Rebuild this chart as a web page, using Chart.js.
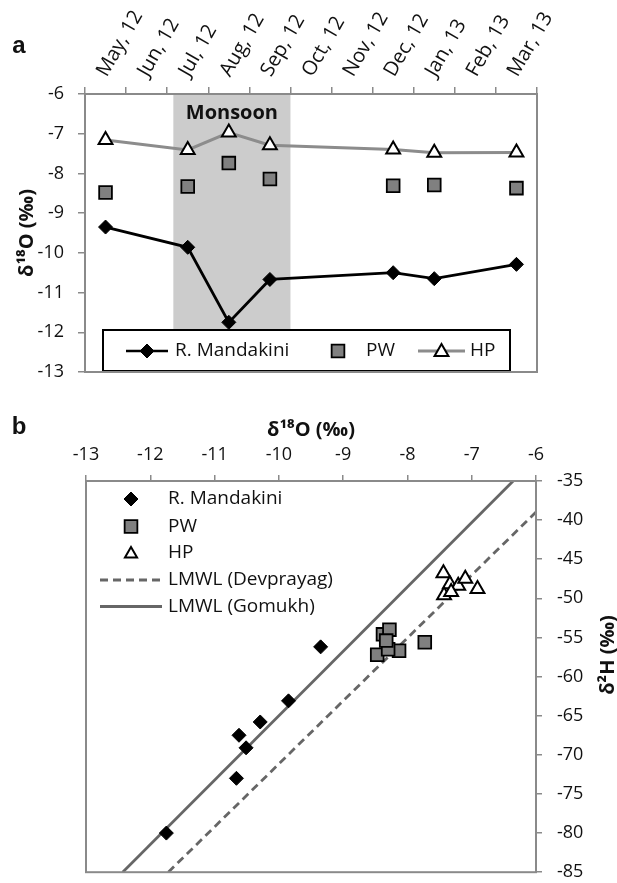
<!DOCTYPE html>
<html><head><meta charset="utf-8">
<script src="https://cdn.jsdelivr.net/npm/chart.js@4/dist/chart.umd.min.js"></script>
<style>
html,body{margin:0;padding:0;background:#fff;}
#wrap{position:relative;width:617px;height:883px;overflow:hidden;}
#ca{position:absolute;left:0;top:0;}
#cb{position:absolute;left:0;top:400px;}
</style></head><body>
<div id="wrap">
<canvas id="ca" width="617" height="400"></canvas>
<canvas id="cb" width="617" height="483"></canvas>
</div>
<script>
// ---------- Panel a data ----------
const months = ['May, 12','Jun, 12','Jul, 12','Aug, 12','Sep, 12','Oct, 12','Nov, 12','Dec, 12','Jan, 13','Feb, 13','Mar, 13'];
const mandakiniA = [-9.35, null, -9.86, -11.75, -10.67, null, null, -10.50, -10.65, null, -10.29];
const pwA        = [-8.48, null, -8.33, -7.74, -8.14, null, null, -8.31, -8.29, null, -8.37];
const hpA        = [-7.16, null, -7.41, -6.97, -7.29, null, null, -7.40, -7.48, null, -7.47];
const monsoonSpan = [1.65, 4.5];   // category-index range of the shaded band
const yRangeA = [-13, -6];

// ---------- Panel b data ----------
const mandakiniO = [-11.75, -10.66, -10.62, -10.51, -10.29, -9.85, -9.35];
const mandakiniH = [-80.0, -73.0, -67.5, -69.1, -65.8, -63.1, -56.2];
const pwO = [-8.47, -7.73, -8.13, -8.30, -8.38, -8.28, -8.33];
const pwH = [-57.2, -55.6, -56.7, -56.5, -54.6, -54.0, -55.4];
const hpO = [-7.44, -7.34, -7.43, -7.21, -7.10, -6.91, -7.32];
const hpH = [-46.8, -48.2, -49.6, -48.4, -47.5, -48.8, -49.2];
const lmwlDevO = [-11.72, -6];
const lmwlDevH = [-85, -38.97];
const lmwlGomO = [-12.43, -6.355];
const lmwlGomH = [-85, -35];
const xRangeB = [-13, -6];
const yRangeB = [-85, -35];

const FONT = "'Open Sans','Noto Sans',sans-serif";
Chart.defaults.font.family = FONT;
Chart.defaults.font.size = 18;
Chart.defaults.color = '#111';
Chart.defaults.animation = false;
const AX = '#8a8a8a';
const pts = (xs, ys) => xs.map((x, i) => ({x, y: ys[i]}));

function marker(ctx, style, r, x, y, fill, stroke, bw) {
  ctx.save();
  ctx.fillStyle = fill; ctx.strokeStyle = stroke; ctx.lineWidth = bw;
  Chart.helpers.drawPoint(ctx, {pointStyle: style, radius: r, rotation: 0, borderWidth: bw}, x, y);
  ctx.restore();
}
function seg(ctx, x0, x1, y, color, w, dash) {
  ctx.save(); ctx.strokeStyle = color; ctx.lineWidth = w; ctx.setLineDash(dash || []);
  ctx.beginPath(); ctx.moveTo(x0, y); ctx.lineTo(x1, y); ctx.stroke(); ctx.restore();
}
function txt(ctx, s, x, y, font, align) {
  ctx.save(); ctx.font = font; ctx.fillStyle = '#111'; ctx.textAlign = align || 'left'; ctx.textBaseline = 'middle';
  ctx.fillText(s, x, y); ctx.restore();
}

// ---------- Chart a ----------
const pluginA = {
  id: 'panelA',
  beforeDatasetsDraw(chart) {
    const {ctx, chartArea: ca, scales: {x}} = chart;
    const x0 = x.getPixelForValue(monsoonSpan[0]), x1 = x.getPixelForValue(monsoonSpan[1]);
    ctx.save();
    ctx.fillStyle = '#cccccc';
    ctx.fillRect(x0, ca.top, x1 - x0, ca.bottom - ca.top);
    ctx.restore();
    txt(ctx, 'Monsoon', (x0 + x1) / 2, ca.top + 19, 'bold 20px ' + FONT, 'center');
  },
  afterDatasetsDraw(chart) {
    const ctx = chart.ctx;
    const ds = chart.data.datasets;
    ctx.save();
    ctx.fillStyle = '#fff'; ctx.strokeStyle = '#000'; ctx.lineWidth = 2;
    ctx.fillRect(103, 330, 407, 41); ctx.strokeRect(103, 330, 407, 41);
    ctx.restore();
    const y = 351, f = '19px ' + FONT;
    seg(ctx, 126, 168, y, '#000', 2.5);
    marker(ctx, 'rectRot', 7, 147, y, '#000', '#000', 1);
    txt(ctx, ds[0].label, 175, y, f);
    marker(ctx, 'rect', 9, 338, y, '#808080', '#000', 1.8);
    txt(ctx, ds[1].label, 366, y, f);
    seg(ctx, 418, 465, y, '#8c8c8c', 3);
    marker(ctx, 'triangle', 8, 441.5, y + 1, '#fff', '#000', 2);
    txt(ctx, ds[2].label, 470, y, f);
  },
  afterDraw(chart) {
    const {ctx, chartArea: ca} = chart;
    ctx.save(); ctx.strokeStyle = AX; ctx.lineWidth = 2;
    ctx.strokeRect(ca.left, ca.top, ca.right - ca.left, ca.bottom - ca.top);
    ctx.restore();
    txt(ctx, 'a', 19, 46, 'bold 24px "Liberation Sans", Arial, sans-serif', 'center');
  }
};

new Chart(document.getElementById('ca'), {
  type: 'line',
  data: {
    labels: months,
    datasets: [
      {label: 'R. Mandakini', data: mandakiniA, spanGaps: true, borderColor: '#000', borderWidth: 2.8,
       pointStyle: 'rectRot', pointRadius: 7, pointBackgroundColor: '#000', pointBorderColor: '#000', pointBorderWidth: 1, tension: 0},
      {label: 'PW', data: pwA, showLine: false, pointStyle: 'rect', pointRadius: 9,
       pointBackgroundColor: '#808080', pointBorderColor: '#000', pointBorderWidth: 1.8},
      {label: 'HP', data: hpA, spanGaps: true, borderColor: '#8c8c8c', borderWidth: 3,
       pointStyle: 'triangle', pointRadius: 8, pointBackgroundColor: '#fff', pointBorderColor: '#000', pointBorderWidth: 2, tension: 0}
    ]
  },
  options: {
    responsive: false, maintainAspectRatio: false,
    layout: {padding: {left: 0, top: 0, right: 80, bottom: 28}},
    plugins: {legend: {display: false}, tooltip: {enabled: false}},
    scales: {
      x: {
        type: 'category', position: 'top', offset: true,
        grid: {offset: true, drawOnChartArea: false, drawTicks: true, tickLength: 7, color: AX, lineWidth: 1.5},
        border: {display: false},
        ticks: {minRotation: 60, maxRotation: 60, autoSkip: false, padding: 6, labelOffset: 17, font: {size: 20}},
        afterFit(s) { s.height = 94; s.paddingLeft = 0; s.paddingRight = 0; }
      },
      y: {
        min: yRangeA[0], max: yRangeA[1],
        grid: {drawOnChartArea: false, drawTicks: true, tickLength: 7, color: AX, lineWidth: 1.5},
        border: {display: false},
        ticks: {stepSize: 1, padding: 14, font: {size: 18}},
        title: {display: true, text: 'δ¹⁸O (‰)', font: {weight: 'bold', size: 20}, padding: {top: 15, bottom: 0}},
        afterFit(s) { s.width = 85; s.paddingTop = 0; s.paddingBottom = 0; }
      }
    }
  },
  plugins: [pluginA]
});

// ---------- Chart b ----------
const pluginB = {
  id: 'panelB',
  afterDraw(chart) {
    const {ctx, chartArea: ca} = chart;
    const ds = chart.data.datasets;
    ctx.save(); ctx.strokeStyle = AX; ctx.lineWidth = 2;
    ctx.strokeRect(ca.left, ca.top, ca.right - ca.left, ca.bottom - ca.top);
    ctx.restore();
    const f = '19px ' + FONT, tx = 168;
    marker(ctx, 'rectRot', 7, 131, 99, '#000', '#000', 1);
    txt(ctx, ds[0].label, tx, 99, f);
    marker(ctx, 'rect', 9, 131, 126.5, '#808080', '#000', 1.8);
    txt(ctx, ds[1].label, tx, 126.5, f);
    marker(ctx, 'triangle', 7, 131, 154, '#fff', '#000', 2);
    txt(ctx, ds[2].label, tx, 153, f);
    seg(ctx, 100, 162, 180, '#666', 2.8, [8, 5]);
    txt(ctx, ds[3].label, tx, 180, f);
    seg(ctx, 100, 162, 206.5, '#666', 2.8);
    txt(ctx, ds[4].label, tx, 206.5, f);
    txt(ctx, 'b', 19, 27, 'bold 24px "Liberation Sans", Arial, sans-serif', 'center');
    ctx.save();
    ctx.translate(608, 255); ctx.rotate(-Math.PI / 2);
    txt(ctx, 'δ²H (‰)', 0, 0, 'bold 20px ' + FONT, 'center');
    ctx.restore();
  }
};

new Chart(document.getElementById('cb'), {
  type: 'scatter',
  data: {
    datasets: [
      {label: 'R. Mandakini', data: pts(mandakiniO, mandakiniH), pointStyle: 'rectRot', pointRadius: 7,
       pointBackgroundColor: '#000', pointBorderColor: '#000', pointBorderWidth: 1},
      {label: 'PW', data: pts(pwO, pwH), pointStyle: 'rect', pointRadius: 9,
       pointBackgroundColor: '#808080', pointBorderColor: '#000', pointBorderWidth: 1.8},
      {label: 'HP', data: pts(hpO, hpH), pointStyle: 'triangle', pointRadius: 8,
       pointBackgroundColor: '#fff', pointBorderColor: '#000', pointBorderWidth: 2},
      {label: 'LMWL (Devprayag)', data: pts(lmwlDevO, lmwlDevH), showLine: true, pointRadius: 0,
       borderColor: '#666', borderWidth: 2.8, borderDash: [8, 5]},
      {label: 'LMWL (Gomukh)', data: pts(lmwlGomO, lmwlGomH), showLine: true, pointRadius: 0,
       borderColor: '#666', borderWidth: 2.8}
    ]
  },
  options: {
    responsive: false, maintainAspectRatio: false,
    layout: {padding: {left: 86, top: 0, right: 0, bottom: 9}},
    plugins: {legend: {display: false}, tooltip: {enabled: false}},
    scales: {
      x: {
        type: 'linear', position: 'top', min: xRangeB[0], max: xRangeB[1],
        grid: {drawOnChartArea: false, drawTicks: true, tickLength: 6, color: AX, lineWidth: 1.5},
        border: {display: false},
        ticks: {stepSize: 1, padding: 9, font: {size: 18}},
        title: {display: true, text: 'δ¹⁸O (‰)', font: {weight: 'bold', size: 20}, padding: {top: 18, bottom: 0}},
        afterFit(s) { s.height = 81; s.paddingLeft = 0; s.paddingRight = 0; }
      },
      y: {
        type: 'linear', position: 'right', min: yRangeB[0], max: yRangeB[1],
        grid: {drawOnChartArea: false, drawTicks: true, tickLength: 6, color: AX, lineWidth: 1.5},
        border: {display: false},
        ticks: {stepSize: 5, padding: 15, font: {size: 18}},
        afterFit(s) { s.width = 81; s.paddingTop = 0; s.paddingBottom = 0; }
      }
    }
  },
  plugins: [pluginB]
});
</script>
</body></html>
